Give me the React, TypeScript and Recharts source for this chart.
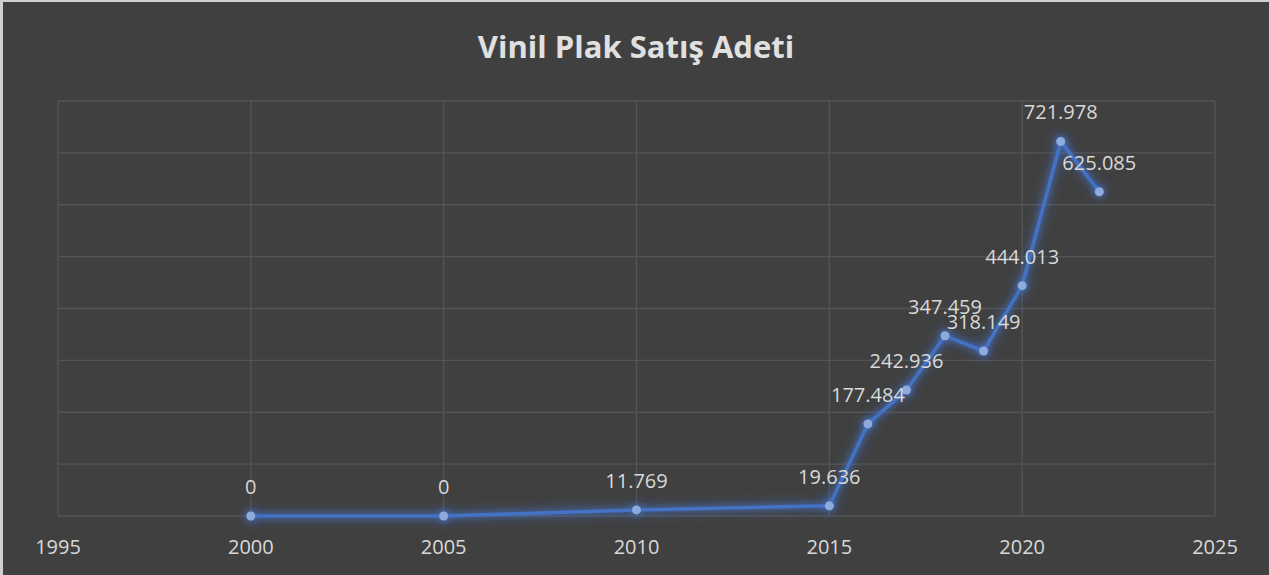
import { LineChart, Line, XAxis, YAxis, CartesianGrid, LabelList } from "recharts";

const years = [2000, 2005, 2010, 2015, 2016, 2017, 2018, 2019, 2020, 2021, 2022];
const sales = [0, 0, 11769, 19636, 177484, 242936, 347459, 318149, 444013, 721978, 625085];
const xTicks = [1995, 2000, 2005, 2010, 2015, 2020, 2025];
const yTicks = [0, 100000, 200000, 300000, 400000, 500000, 600000, 700000, 800000];

const data = years.map((year, i) => ({ year, sales: sales[i] }));

const FONT = "'Open Sans', 'Liberation Sans', sans-serif";

const fmt = (v: any) => String(v).replace(/\B(?=(\d{3})+(?!\d))/g, ".");

export default function App() {
  return (
    <div
      style={{
        position: "fixed",
        left: 0,
        top: 0,
        width: 1269,
        height: 575,
        background: "#404040",
        boxSizing: "border-box",
        borderLeft: "3px solid #d0d0d0",
        borderTop: "2px solid #d0d0d0",
        fontFamily: FONT,
      }}
    >
      <style>{`
        .recharts-line-curve, .recharts-line-dots {
          filter: drop-shadow(0 0 3px rgba(68,114,196,0.9)) drop-shadow(0 0 6px rgba(68,114,196,0.6));
        }
      `}</style>
      <div
        style={{
          position: "absolute",
          left: 0,
          width: 1266,
          top: 24,
          textAlign: "center",
          color: "#e0e0e0",
          fontWeight: 700,
          fontSize: 31,
          lineHeight: "40px",
        }}
      >
        Vinil Plak Satış Adeti
      </div>
      <div style={{ position: "absolute", left: -3, top: -2 }}>
        <LineChart
          width={1269}
          height={575}
          data={data}
          margin={{ top: 101, right: 54, bottom: 0, left: 57 }}
        >
          <CartesianGrid stroke="#555555" strokeWidth={1.3} />
          <XAxis
            dataKey="year"
            type="number"
            domain={[1995, 2025]}
            ticks={xTicks}
            height={59}
            axisLine={false}
            tickLine={false}
            tickSize={0}
            tickMargin={24}
            tick={{ fill: "#d9d9d9", fontSize: 20, fontFamily: FONT }}
          />
          <YAxis
            type="number"
            domain={[0, 800000]}
            ticks={yTicks}
            width={1}
            tick={() => <g />}
            axisLine={false}
            tickLine={false}
          />
          <Line
            dataKey="sales"
            type="linear"
            stroke="#4472c4"
            strokeWidth={3.5}
            dot={{ r: 4.5, fill: "#8faadc", stroke: "none" }}
            activeDot={false}
            isAnimationActive={false}
          >
            <LabelList
              dataKey="sales"
              position="top"
              offset={22}
              formatter={fmt}
              fill="#d9d9d9"
              fontSize={20}
              fontFamily={FONT}
            />
          </Line>
        </LineChart>
      </div>
    </div>
  );
}
